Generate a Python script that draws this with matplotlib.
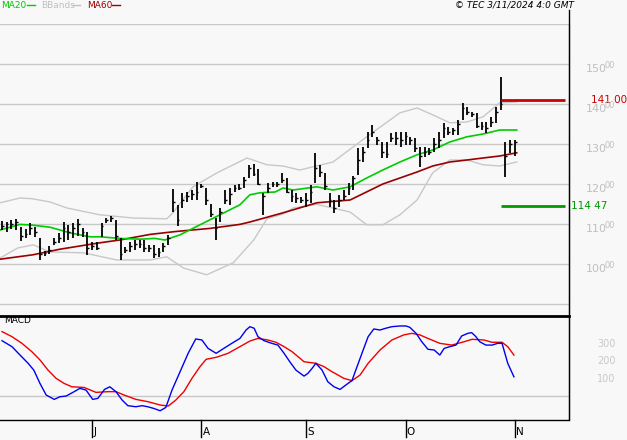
import matplotlib.pyplot as plt

# daily bars (high, low, close), oldest first
highs = [110.8, 110.6, 111.0, 111.2, 109.2, 108.7, 110.3, 109.2, 106.4, 103.3,
         104.5, 106.4, 107.8, 110.6, 109.8, 110.3, 111.2, 108.9, 108.1, 105.6,
         105.6, 110.2, 111.4, 112.0, 111.0, 106.4, 104.3, 105.6, 106.0, 106.0,
         106.0, 104.8, 104.8, 103.9, 105.2, 107.3,
         118.7, 114.8, 117.7, 118.0, 118.5, 120.6, 120.0, 119.0, 115.0, 111.4,
         113.9, 118.5, 119.0, 119.8, 120.0, 121.7, 124.7, 125.0, 123.7, 117.7,
         120.3, 120.5, 120.5, 122.7, 121.4, 118.5, 117.7, 116.8, 117.7, 119.8,
         127.7, 124.7, 122.7, 117.7, 116.0, 117.2, 118.5, 120.2,
         122.0, 128.9, 129.3, 133.0, 134.8, 131.8, 130.6, 130.6, 132.7, 133.0,
         133.0, 133.0, 131.8, 131.4, 129.3, 129.3, 128.9, 131.4, 133.0, 135.2,
         134.3, 133.9, 136.0, 140.2, 139.3, 138.1, 137.7, 135.6, 135.6, 136.8,
         139.3, 146.8, 130.6, 131.0, 131.0]
lows = [108.5, 108.1, 108.7, 108.5, 105.8, 106.4, 107.3, 106.8, 101.0, 102.0,
        102.5, 104.8, 105.2, 105.6, 106.0, 106.4, 107.0, 106.8, 102.3, 103.5,
        103.5, 106.8, 110.2, 110.6, 106.0, 101.0, 102.7, 103.1, 103.5, 103.9,
        103.1, 103.1, 101.4, 101.8, 103.1, 104.8,
        113.0, 109.5, 113.9, 115.6, 116.0, 116.0, 119.0, 114.7, 111.8, 106.0,
        110.6, 115.0, 114.7, 118.0, 118.5, 119.0, 121.4, 122.0, 119.8, 112.3,
        117.7, 119.3, 119.3, 120.2, 117.7, 115.6, 115.2, 115.2, 114.3, 115.2,
        120.2, 121.8, 118.5, 114.3, 112.7, 114.3, 116.0, 117.2,
        118.5, 122.3, 125.6, 128.9, 131.8, 129.8, 126.4, 126.4, 130.6, 129.8,
        129.3, 129.8, 129.8, 128.0, 124.3, 126.8, 127.2, 128.0, 129.0, 131.4,
        132.3, 132.3, 132.3, 136.0, 137.2, 136.8, 133.9, 133.5, 132.7, 134.3,
        135.2, 138.5, 121.8, 127.7, 127.0]
closes = [109.5, 110.0, 110.0, 110.5, 107.0, 107.5, 109.0, 108.0, 102.5, 102.8,
          103.5, 105.5, 106.5, 109.0, 108.0, 109.0, 110.0, 108.0, 104.0, 104.5,
          104.0, 109.5, 111.0, 111.5, 107.0, 102.5, 103.5, 104.5, 105.0, 105.0,
          104.0, 104.0, 102.5, 103.0, 104.5, 106.5,
          115.5, 111.0, 116.0, 117.0, 117.5, 118.0, 119.5, 116.0, 112.5, 109.0,
          113.0, 116.0, 117.5, 119.0, 119.0, 121.0, 124.0, 122.5, 120.0, 117.0,
          119.0, 120.0, 120.0, 121.0, 118.0, 117.0, 116.5, 116.0, 116.0, 118.0,
          124.0, 123.0, 119.5, 116.0, 114.0, 116.0, 117.0, 119.0,
          121.5, 126.0, 128.0, 131.0, 133.0, 131.0, 128.0, 127.5, 131.5, 131.5,
          131.0, 132.0, 131.0, 129.0, 127.0, 128.0, 128.0, 130.0, 131.0, 134.0,
          133.0, 133.5, 135.0, 139.0, 138.0, 137.5, 134.5, 134.5, 134.0, 135.5,
          138.0, 140.0, 127.0, 130.0, 130.5]

ma20_x = [-0.4, 3.8, 6.5, 10.1, 12.2, 14.3, 18.5, 20.6, 24.8, 29.1, 32.2, 34.3,
          37.5, 41.7, 45.9, 50.1, 52.2, 54.3, 57.5, 59.2, 61.3, 66.3, 69.7,
          73.3, 76.8, 80.2, 83.8, 87.4, 90.7, 94.3, 97.9, 101.3, 104.8, 108.4]
ma20_y = [108.5, 109.9, 109.7, 109.2, 108.5, 107.8, 106.8, 106.8, 106.4, 106.2,
          106.4, 106.0, 107.3, 109.8, 112.3, 114.8, 117.3, 117.8, 118.0, 119.0,
          118.5, 119.3, 118.5, 119.3, 121.5, 123.5, 125.5, 127.3, 128.5, 130.5,
          131.8, 132.5, 133.5, 133.5]

ma60_x = [-0.4, 6.5, 12.2, 20.6, 24.8, 31.2, 36.4, 43.8, 50.1, 52.2, 59.2, 66.3,
          73.3, 80.2, 83.8, 87.4, 90.7, 94.3, 97.9, 101.3, 104.8, 108.4]
ma60_y = [101.2, 102.3, 103.7, 105.3, 106.0, 107.4, 108.1, 108.9, 109.9, 110.5,
          112.8, 115.3, 116.0, 120.0, 121.5, 123.0, 124.5, 125.5, 126.0, 126.5,
          127.0, 127.8]

bb_up_x = [-0.4, 3.8, 6.5, 10.1, 13.7, 20.6, 27.6, 34.7, 36.0, 40.2, 45.3, 51.6,
           55.8, 59.2, 62.7, 69.7, 76.8, 83.8, 87.4, 90.7, 94.3, 97.9, 101.3,
           104.8, 108.4]
bb_up_y = [115.3, 116.5, 116.3, 115.5, 114.0, 112.3, 111.5, 111.3, 112.8, 119.3,
           122.8, 126.5, 124.8, 124.5, 123.5, 125.5, 131.8, 137.8, 139.0, 137.3,
           135.3, 135.5, 136.8, 140.3, 140.5]
bb_lo_x = [-0.4, 3.3, 6.6, 10.1, 17.1, 24.2, 31.2, 34.7, 38.2, 43.1, 48.7, 53.0,
           55.8, 59.2, 61.3, 66.3, 73.3, 76.8, 80.2, 83.8, 87.4, 90.7, 94.3,
           97.9, 101.3, 104.8, 108.4]
bb_lo_y = [101.5, 104.0, 104.8, 103.0, 102.8, 101.0, 101.0, 101.8, 99.0, 97.3,
           100.3, 106.0, 111.3, 112.5, 114.0, 114.9, 113.0, 109.8, 109.8, 112.3,
           116.0, 122.8, 126.0, 126.0, 124.8, 124.5, 125.5]

macd_x = [0.0, 2.1, 3.8, 5.5, 6.7, 8.0, 9.3, 11.0, 12.2, 13.5, 15.2, 16.4, 17.7,
          19.1, 20.2, 21.6, 22.7, 24.0, 25.3, 26.5, 28.2, 29.5, 30.7, 32.0, 33.3,
          34.5, 35.8, 37.5, 39.2, 40.8, 42.1, 43.4, 45.1, 46.7, 48.4, 50.1, 51.4,
          52.2, 53.1, 53.9, 55.2, 56.8, 58.1, 59.4, 60.6, 61.9, 63.6, 64.4, 65.3,
          66.1, 67.4, 68.6, 69.9, 71.2, 72.4, 73.7, 74.5, 75.8, 77.1, 78.3, 79.6,
          80.8, 82.1, 83.8, 85.1, 85.9, 87.2, 88.4, 89.7, 91.0, 92.2, 93.1, 94.3,
          95.6, 96.8, 98.1, 98.9, 99.8, 100.6, 101.9, 103.2, 104.4, 105.3, 106.5,
          107.8]
macd_y = [316, 282, 234, 187, 148, 72, 6, -19, -4, 0, 25, 44, 34, -19, -13, 38,
          53, 25, -23, -55, -61, -55, -61, -71, -84, -65, 34, 139, 244, 326, 320,
          272, 244, 272, 301, 329, 377, 396, 387, 339, 316, 301, 291, 244, 196,
          148, 114, 129, 158, 187, 148, 82, 53, 38, 63, 88, 148, 244, 339, 383,
          377, 387, 396, 400, 400, 392, 358, 310, 267, 263, 234, 272, 282, 291,
          343, 358, 362, 339, 310, 291, 291, 301, 301, 187, 110]
signal_x = [0.0, 2.1, 4.2, 6.3, 8.0, 9.7, 11.4, 13.1, 14.7, 17.3, 19.8, 22.3,
            24.0, 25.7, 28.2, 30.7, 33.3, 35.0, 36.6, 38.3, 40.0, 41.7, 43.0,
            45.1, 47.6, 50.1, 52.2, 53.9, 56.0, 57.7, 59.4, 61.1, 63.6, 66.1,
            67.8, 69.5, 72.0, 73.7, 75.4, 77.1, 79.6, 82.1, 84.6, 86.3, 88.0,
            89.7, 92.2, 94.7, 97.3, 99.0, 101.5, 103.2, 105.3, 106.5, 107.8]
signal_y = [368, 339, 301, 253, 206, 148, 101, 72, 53, 49, 21, 25, 25, 6, -19,
            -32, -51, -57, -23, 25, 101, 168, 210, 221, 244, 282, 314, 329, 320,
            307, 282, 253, 196, 187, 168, 139, 101, 88, 120, 187, 263, 320, 349,
            358, 349, 329, 301, 291, 310, 324, 320, 307, 307, 282, 234]

month_pos = [19, 42, 64, 85, 108]
month_labels = ['J', 'A', 'S', 'O', 'N']
price_ticks = [100, 110, 120, 130, 140, 150]
macd_ticks = [100, 200, 300]
resistance = 141.00
support = 114.47

bg = '#f8f8f8'
grid_c = '#c8c8c8'
fig = plt.figure(figsize=(6.27, 4.40), dpi=100, facecolor=bg)
ax = fig.add_axes([0, 1 - 315 / 440, 569 / 627, (315 - 24) / 440], facecolor=bg)
ax2 = fig.add_axes([0, 1 - 419 / 440, 569 / 627, (419 - 316) / 440], facecolor=bg)

xlim = (-0.42, 119.4)
for a in (ax, ax2):
    a.set_xlim(*xlim)
    a.set_xticks([])
    a.set_yticks([])
    for s in a.spines.values():
        s.set_visible(False)
    a.spines['right'].set_visible(True)
    a.spines['right'].set_color('black')

ax.set_ylim(87.25, 160)
for p in [90] + price_ticks + [160]:
    ax.axhline(p, color=grid_c, lw=1, zorder=0)

n = len(closes)
idx = list(range(n))
ax.plot(bb_up_x, bb_up_y, color=grid_c, lw=1)
ax.plot(bb_lo_x, bb_lo_y, color=grid_c, lw=1)
ax.plot(ma60_x, ma60_y, color='#990000', lw=1.2)
ax.plot(ma20_x, ma20_y, color='#00cc00', lw=1.2)
ax.vlines(idx, lows, highs, color='black', lw=1.3)
ax.hlines(closes, idx, [i + 0.35 for i in idx], color='black', lw=1)

ax.hlines(resistance, 105.0, 118.6, color='#cc0000', lw=2)
ax.hlines(support, 105.0, 118.6, color='#009900', lw=2)
ax.text(1.0 + 24 / 627, resistance, '141 00', transform=ax.get_yaxis_transform(),
        color='#cc0000', fontsize=7.5, va='center', ha='left', clip_on=False)
ax.text(1.0 + 2 / 627, support, '114 47', transform=ax.get_yaxis_transform(),
        color='#009900', fontsize=7.5, va='center', ha='left', clip_on=False)
for p in price_ticks:
    ax.text(1.0 + 18 / 627, p - 1.2, str(p), transform=ax.get_yaxis_transform(),
            color='#c0c0c0', fontsize=8, va='center', ha='left', clip_on=False)
    ax.text(1.0 + 39 / 627, p - 0.4, '00', transform=ax.get_yaxis_transform(),
            color='#c0c0c0', fontsize=6, va='center', ha='left', clip_on=False)

ax2.set_ylim(-131, 457)
ax2.axhline(0, color=grid_c, lw=1)
ax2.plot(signal_x, signal_y, color='#ee0000', lw=1)
ax2.plot(macd_x, macd_y, color='#0000ee', lw=1)
ax2.text(0.5, 430, 'MACD', fontsize=6.5, va='center', ha='left')
for m in macd_ticks:
    ax2.text(1.0 + 31 / 627, m, str(m), transform=ax2.get_yaxis_transform(),
             color='#c8c8c8', fontsize=7, va='center', ha='left', clip_on=False)

# separators
fig.add_artist(plt.Line2D([0, 569 / 627], [1 - 315.5 / 440] * 2, color='black', lw=2))
fig.add_artist(plt.Line2D([0, 569 / 627], [1 - 419.5 / 440] * 2, color='black', lw=1))
fig.add_artist(plt.Line2D([569 / 627] * 2, [1 - 419 / 440, 1 - 10 / 440], color='black', lw=1))

# month ticks below the MACD panel
for pos, lab in zip(month_pos, month_labels):
    xf = (pos - xlim[0]) / (xlim[1] - xlim[0]) * 569 / 627
    fig.add_artist(plt.Line2D([xf, xf], [1 - 420 / 440, 1 - 437 / 440], color='black', lw=1))
    fig.text(xf + 1 / 627, 1 - 432 / 440, lab, fontsize=7.5, va='center', ha='left')

# legend and stamp
fig.text(1 / 627, 1 - 5 / 440, 'MA20', color='#00cc00', fontsize=6.5, va='center')
fig.text(41 / 627, 1 - 5 / 440, 'BBands', color='#c0c0c0', fontsize=6.5, va='center')
fig.text(87 / 627, 1 - 5 / 440, 'MA60', color='#990000', fontsize=6.5, va='center')
for x0, c in [(27, '#00cc00'), (72, '#c0c0c0'), (112, '#990000')]:
    fig.add_artist(plt.Line2D([x0 / 627, (x0 + 8) / 627], [1 - 5 / 440] * 2, color=c, lw=1))
fig.text(574 / 627, 1 - 5 / 440, '© TEC 3/11/2024 4:0 GMT', fontsize=6.5,
         style='italic', va='center', ha='right')

fig.savefig('out.png', dpi=100, facecolor=bg)
